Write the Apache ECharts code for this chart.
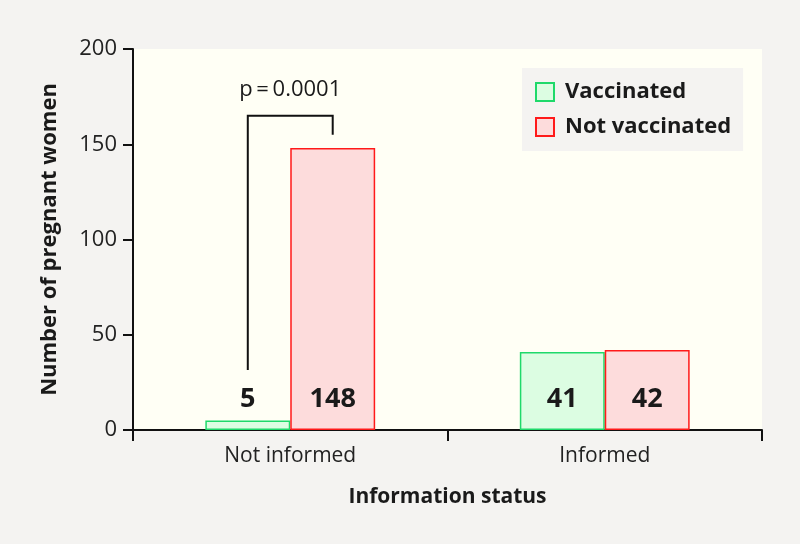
<!DOCTYPE html>
<html>
<head>
<meta charset="utf-8">
<script src="https://cdn.jsdelivr.net/npm/echarts@6/dist/echarts.min.js"></script>
<style>
  html, body { margin: 0; padding: 0; background: #f4f3f1; }
  #chart { width: 800px; height: 544px; }
</style>
</head>
<body>
<div id="chart"></div>
<script>
// data
const categories = ['Not informed', 'Informed'];
const vaccinated = [5, 41];
const notVaccinated = [148, 42];
const pText = 'p\u2009=\u20090.0001';

const FONT = 'Open Sans';
const BAR_PCT = 0.27;

const chart = echarts.init(document.getElementById('chart'));

function barSeries(name, values, fill, stroke) {
  return {
    name: name,
    type: 'bar',
    data: values,
    barWidth: (BAR_PCT * 100) + '%',
    barGap: '0%',
    itemStyle: { color: fill, borderColor: stroke, borderWidth: 1.5 },
    label: {
      show: true,
      position: 'insideBottom',
      distance: 17,
      color: '#1a1a1a',
      fontFamily: FONT,
      fontWeight: 'bold',
      fontSize: 27
    },
    emphasis: { disabled: true }
  };
}

const option = {
  backgroundColor: '#f4f3f1',
  animation: false,
  grid: {
    left: 133, right: 38, top: 49, bottom: 114,
    show: true, backgroundColor: '#fffff5', borderWidth: 0
  },
  legend: {
    orient: 'vertical',
    left: 522, top: 68,
    padding: [13, 12, 13, 13],
    backgroundColor: '#f4f3f1',
    itemWidth: 18, itemHeight: 18, itemGap: 13,
    icon: 'rect',
    textStyle: { fontFamily: FONT, fontWeight: 'bold', fontSize: 22, color: '#1a1a1a', padding: [0, 0, 0, 6] },
    data: ['Vaccinated', 'Not vaccinated']
  },
  xAxis: {
    type: 'category',
    data: categories,
    name: 'Information status',
    nameLocation: 'middle',
    nameGap: 57,
    nameTextStyle: { fontFamily: FONT, fontWeight: 'bold', fontSize: 21, color: '#1a1a1a' },
    axisLine: { lineStyle: { color: '#111', width: 2 } },
    axisTick: { show: true, length: 11, lineStyle: { color: '#111', width: 2 } },
    axisLabel: { fontFamily: FONT, fontSize: 21, color: '#222', margin: 16 }
  },
  yAxis: {
    type: 'value',
    min: 0, max: 200, interval: 50,
    name: 'Number of pregnant women',
    nameLocation: 'middle',
    nameGap: 72,
    nameTextStyle: { fontFamily: FONT, fontWeight: 'bold', fontSize: 22, color: '#1a1a1a' },
    axisLine: { show: true, lineStyle: { color: '#111', width: 2 } },
    axisTick: { show: true, length: 10, lineStyle: { color: '#111', width: 2 } },
    splitLine: { show: false },
    axisLabel: { fontFamily: FONT, fontSize: 22, color: '#222', margin: 16 }
  },
  series: [
    barSeries('Vaccinated', vaccinated, '#dcfde2', '#1fd96a'),
    barSeries('Not vaccinated', notVaccinated, '#fddcdc', '#ff1a1a')
  ]
};
chart.setOption(option);

// significance bracket between the two bars of the first group
function drawBracket() {
  const cx = chart.convertToPixel({ xAxisIndex: 0 }, categories[0]);
  const band = chart.convertToPixel({ xAxisIndex: 0 }, categories[1]) - cx;
  const bw = band * BAR_PCT;
  const xl = cx - bw / 2, xr = cx + bw / 2;
  const y = v => chart.convertToPixel({ yAxisIndex: 0 }, v);
  const yTop = y(165);
  chart.setOption({
    graphic: [
      {
        type: 'polyline',
        shape: { points: [[xl, y(31.5)], [xl, yTop], [xr, yTop], [xr, y(155)]] },
        style: { stroke: '#111', lineWidth: 2, fill: null }
      },
      {
        type: 'text',
        x: cx, y: y(178.5),
        style: {
          text: pText, fontFamily: FONT, fontSize: 22, fill: '#1a1a1a',
          align: 'center', verticalAlign: 'middle'
        }
      }
    ]
  });
}
drawBracket();
</script>
</body>
</html>
